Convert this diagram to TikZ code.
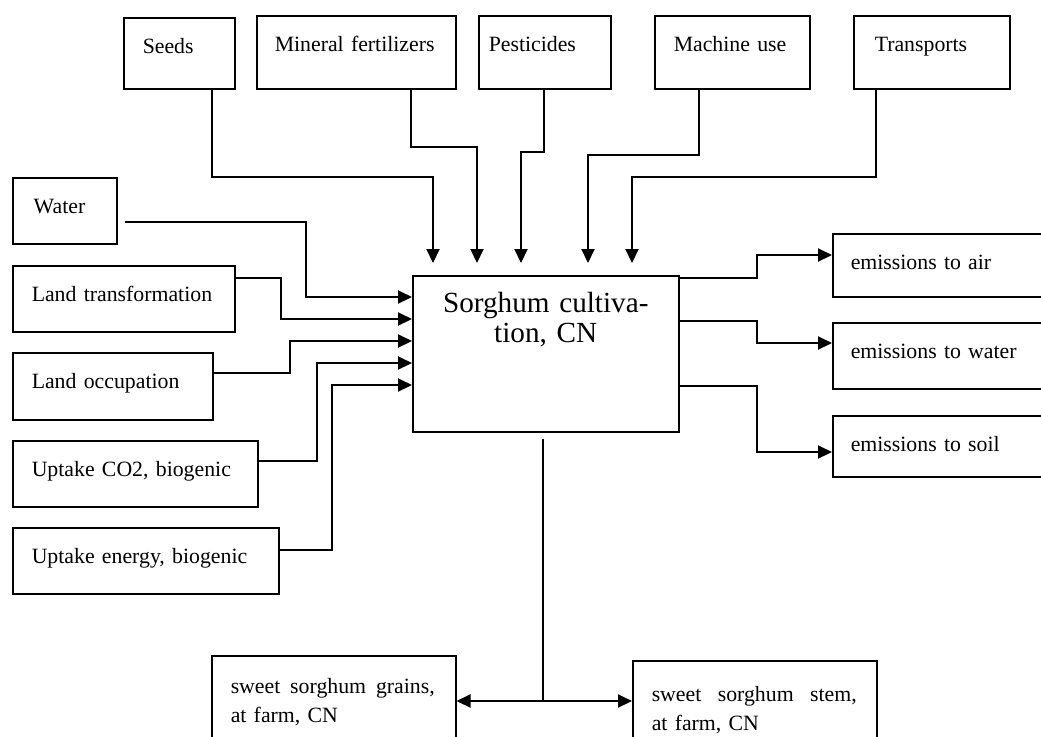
\documentclass[tikz,border=0pt]{standalone}
\usepackage{fontspec}
\setmainfont{Liberation Serif}
\usetikzlibrary{arrows.meta}
\newcommand{\lcafont}{\fontsize{10.9}{13}\selectfont}
\newcommand{\lcamainfont}{\fontsize{14.6}{15}\selectfont}
\newcommand{\lcaoutfont}{\fontsize{10.9}{14.5}\selectfont}

\begin{document}
\begin{tikzpicture}[x=0.5pt,y=-0.5pt,
  lcabox/.style n args={3}{draw,line width=0.75pt,anchor=north west,inner ysep=0pt,
      inner xsep=#3,text width=#1,text height=18pt,text depth=#2,align=left,font=\lcafont},
  flow/.style={line width=1pt,-{Triangle[length=7pt,width=6.5pt]}},
  trunk/.style={line width=1.4pt}]
  \useasboundingbox (0,0) rectangle (1041,736);
  \clip (0,0) rectangle (1041,736);
  \fill[white] (0,0) rectangle (1041,736);

  % inputs from the technosphere
  \node[lcabox={36.5pt}{17.5pt}{9.5pt}] (seeds) at (123,17) {Seeds};
  \node[lcabox={81.5pt}{18.5pt}{9pt}] (minfert) at (256,15) {Mineral fertilizers};
  \node[lcabox={56pt}{18.5pt}{5pt}] (pest) at (478,15) {Pesticides};
  \node[lcabox={58.5pt}{18.5pt}{9.5pt}] (machine) at (654,15) {Machine use};
  \node[lcabox={57pt}{18.5pt}{10.5pt}] (transp) at (853,15) {Transports};

  % resources from nature
  \node[lcabox={31pt}{15pt}{10.5pt}] (water) at (12,177) {Water};
  \node[lcabox={92pt}{15pt}{9.5pt}] (landtr) at (12,265) {Land transformation};
  \node[lcabox={81pt}{15.5pt}{9.5pt}] (landoc) at (12,352) {Land occupation};
  \node[lcabox={103.5pt}{15pt}{9.5pt}] (co2) at (12,440) {Uptake CO2, biogenic};
  \node[lcabox={114pt}{15pt}{9.5pt}] (energy) at (12,527) {Uptake energy, biogenic};

  % the process
  \node[draw,line width=0.75pt,anchor=north west,inner sep=0pt,text width=133pt,
        text height=18.5pt,text depth=59.5pt,align=center,font=\lcamainfont]
        (main) at (412,275) {Sorghum cultiva-\\tion, CN};

  % emissions
  \node[lcabox={96pt}{13.5pt}{9pt}] (air) at (832,233) {emissions to air};
  \node[lcabox={96pt}{15pt}{9pt}] (wat) at (832,322) {emissions to water};
  \node[lcabox={96pt}{12.5pt}{9pt}] (soil) at (832,415) {emissions to soil};

  % products
  \node[lcabox={103pt}{33.5pt}{9.5pt},text height=19pt,font=\lcaoutfont] (grains) at (211,655)
        {\hbox to 102pt{sweet\hfill sorghum\hfill grains,}\\at farm, CN};
  \node[lcabox={103pt}{29.5pt}{9.5pt},text height=20.5pt,font=\lcaoutfont] (stem) at (632,660)
        {\hbox to 102.5pt{sweet\hfill sorghum\hfill stem,}\\at farm, CN};

  % top arrows
  \draw[flow] ([xshift=44.5pt]seeds.south west) -- ++(0,87) -| ([xshift=10.5pt,yshift=6pt]main.north west);
  \draw[flow] ([xshift=77.5pt]minfert.south west) -- ++(0,57) -| ([xshift=32.5pt,yshift=6pt]main.north west);
  \draw[flow] ([xshift=33pt]pest.south west) -- ++(0,62) -| ([xshift=54.5pt,yshift=6pt]main.north west);
  \draw[flow] ([xshift=22.5pt]machine.south west) -- ++(0,65) -| ([xshift=88pt,yshift=6pt]main.north west);
  \draw[flow] ([xshift=11.5pt]transp.south west) -- ++(0,87) -| ([xshift=110pt,yshift=6pt]main.north west);

  % left arrows
  \draw[flow] ([xshift=3.5pt,yshift=-5.5pt]water.east) -- ++(181,0) |- ([yshift=-11pt]main.north west);
  \draw[flow] ([yshift=-6.5pt]landtr.north east) -- ++(45,0) |- ([yshift=-22pt]main.north west);
  \draw[flow] ([yshift=-10.5pt]landoc.north east) -- ++(76,0) |- ([yshift=-33pt]main.north west);
  \draw[flow] ([yshift=-10.5pt]co2.north east) -- ++(58,0) |- ([yshift=-44pt]main.north west);
  \draw[flow] ([yshift=-11.5pt]energy.north east) -- ++(52,0) |- ([yshift=-55pt]main.north west);

  % right arrows
  \draw[flow] ([yshift=-1.5pt]main.north east) -- ++(77,0) |- ([yshift=-11pt]air.north west);
  \draw[flow] ([yshift=-23pt]main.north east) -- ++(77,0) |- ([yshift=-10.5pt]wat.north west);
  \draw[flow] ([yshift=-55.5pt]main.north east) -- ++(77,0) |- ([yshift=-18.5pt]soil.north west);

  % bottom split
  \coordinate (split) at (543,701);
  \draw[trunk] (split |- main.south) ++(0,6) -- (split);
  \draw[flow] (split) -- (split -| grains.east);
  \draw[flow] (split) -- (split -| stem.west);
\end{tikzpicture}
\end{document}
